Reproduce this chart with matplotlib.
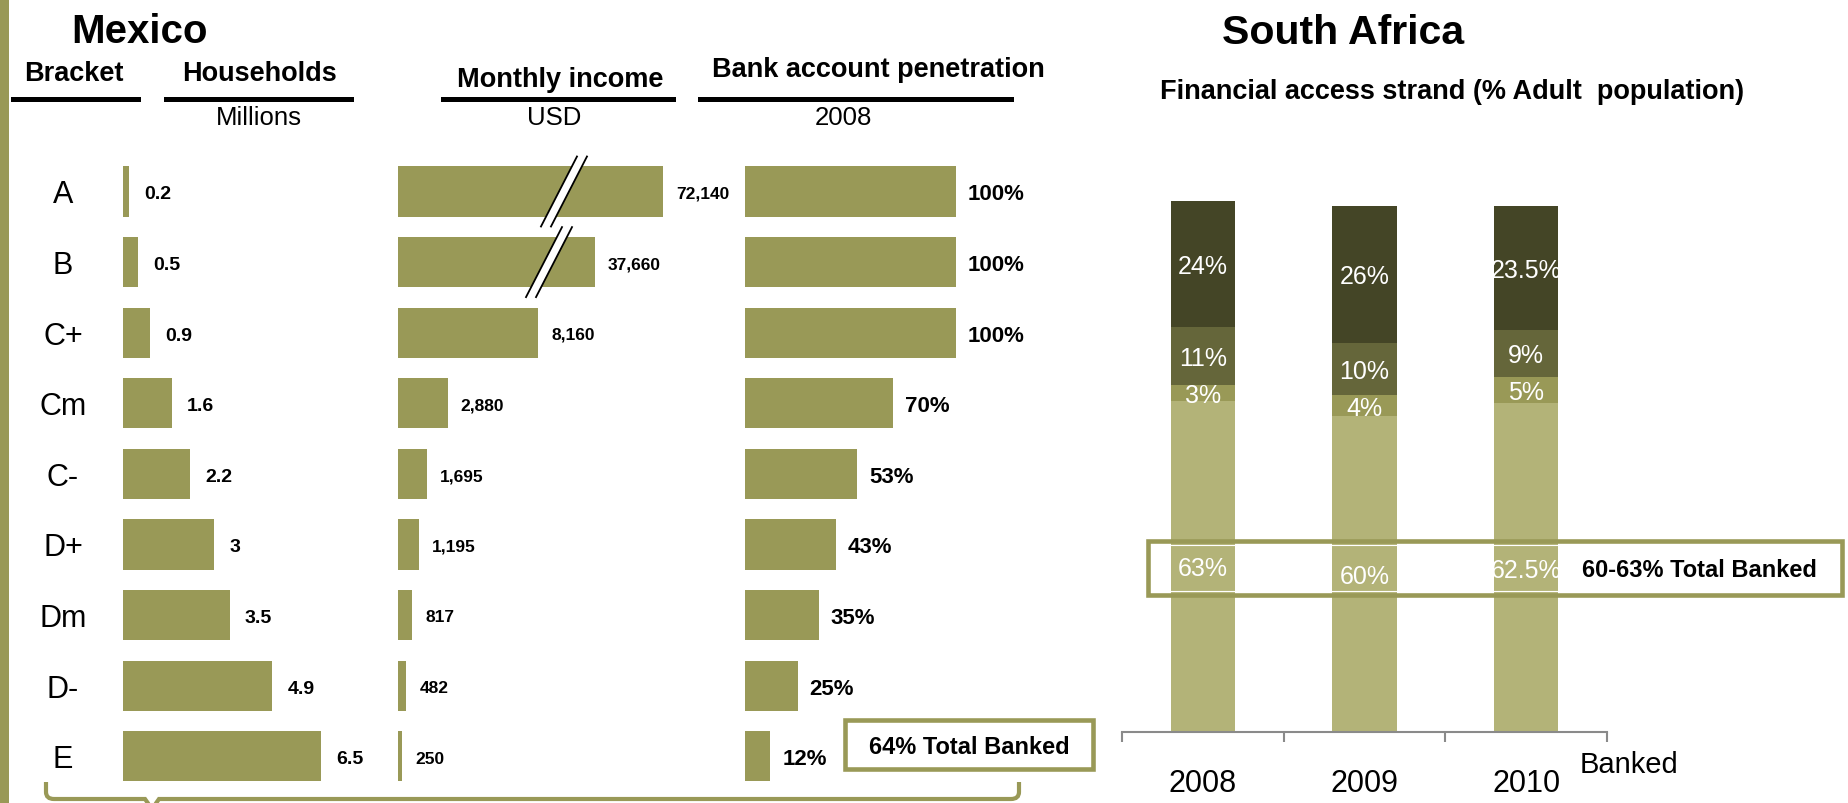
import matplotlib
matplotlib.use("Agg")
import matplotlib.pyplot as plt
from matplotlib import transforms
from matplotlib.patches import Rectangle, Polygon, PathPatch
from matplotlib.path import Path

plt.rcParams['font.family'] = ['Liberation Sans', 'DejaVu Sans']

# Mexico: income brackets
brackets = ["A", "B", "C+", "Cm", "C-", "D+", "Dm", "D-", "E"]
households_m = [0.2, 0.5, 0.9, 1.6, 2.2, 3, 3.5, 4.9, 6.5]
income_usd = [72140, 37660, 8160, 2880, 1695, 1195, 817, 482, 250]
bank_pct = [100, 100, 100, 70, 53, 43, 35, 25, 12]

# South Africa: financial access strand, % of adults (bottom to top)
years = ["2008", "2009", "2010"]
banked = [63, 60, 62.5]
other_formal = [3, 4, 5]
informal_only = [11, 10, 9]
excluded = [24, 26, 23.5]

OLIVE = "#999957"
SA_COLORS = ["#b3b378", "#999957", "#65663a", "#444526"]
GREY = "#8a8a8a"

W, H = 1849, 804
fig = plt.figure(figsize=(W / 100, H / 100), dpi=100)


def px_rect(left, top, width, height):
    return [left / W, 1 - (top + height) / H, width / W, height / H]


def cap_text(ax, x, y, s, size, dx=0, trans=None, **kw):
    # place text so that its cap height is centred on (x, y)
    cap = size * 100 / 72 * 0.716
    base = trans if trans is not None else ax.transData
    t = transforms.offset_copy(base, fig=fig, x=dx, y=-cap / 2, units='dots')
    return ax.text(x, y, s, transform=t, fontsize=size, va='baseline', clip_on=False, **kw)


# overlay in pixel coordinates for titles, rules and callouts
ov = fig.add_axes([0, 0, 1, 1])
ov.set_xlim(0, W)
ov.set_ylim(H, 0)
ov.axis('off')
ov.set_zorder(5)

# row layout shared by the three Mexico columns
row0, step = 192.5, 70.6
top = row0 - step / 2
n = len(brackets)
bar_h = 0.71


def row_axes(left, width, px_per_unit):
    ax = fig.add_axes(px_rect(left, top, width, n * step))
    ax.set_xlim(0, width / px_per_unit)
    ax.set_ylim(n - 0.5, -0.5)
    ax.axis('off')
    return ax


ax_hh = row_axes(123, 260, 30.5)
ax_inc = row_axes(398, 300, 0.0172)
ax_bank = row_axes(745, 320, 2.11)

ax_hh.barh(range(n), households_m, height=bar_h, color=OLIVE)
for i, v in enumerate(households_m):
    cap_text(ax_hh, v, i, f"{v:g}", 14, dx=15, fontweight='bold')

# bracket names on the left
lab_trans = transforms.blended_transform_factory(ov.transData, ax_hh.transData)
for i, b in enumerate(brackets):
    cap_text(ax_hh, 63, i, b, 22, trans=lab_trans, ha='center')

# monthly income, two top bars are shortened with a break mark
broken = {0: (15400, 9650), 1: (11450, 8780)}
drawn = [min(v, broken[i][0]) if i in broken else v for i, v in enumerate(income_usd)]
ax_inc.barh(range(n), drawn, height=bar_h, color=OLIVE)
for i, v in enumerate(drawn):
    cap_text(ax_inc, v, i, f"{income_usd[i]:,}", 12.5, dx=13, fontweight='bold')

ax_bank.barh(range(n), bank_pct, height=bar_h, color=OLIVE)
for i, v in enumerate(bank_pct):
    cap_text(ax_bank, v, i, f"{v}%", 16, dx=12, fontweight='bold')

to_ov = ov.transData.inverted()
fig.canvas.draw()
for i, (cap_v, bx) in broken.items():
    cx, cy = to_ov.transform(ax_inc.transData.transform((bx, i)))
    hh, sk, gap = 35, 18, 5
    l1 = [(cx + sk - gap, cy - hh), (cx - sk - gap, cy + hh)]
    l2 = [(cx + sk + gap, cy - hh), (cx - sk + gap, cy + hh)]
    ov.add_patch(Polygon([l1[0], l2[0], l2[1], l1[1]], closed=True, color='white', lw=0))
    for seg in (l1, l2):
        ov.plot([seg[0][0], seg[1][0]], [seg[0][1], seg[1][1]], color='black', lw=1.3)

# South Africa stacked columns
ax_sa = fig.add_axes(px_rect(1122, 207, 485, 526))
ax_sa.set_xlim(-0.5, 2.5)
ax_sa.set_ylim(0, 100)
x = range(len(years))
bottom = [0] * len(years)
for series, col in zip([banked, other_formal, informal_only, excluded], SA_COLORS):
    ax_sa.bar(x, series, bottom=bottom, width=0.396, color=col, clip_on=False)
    for i, v in enumerate(series):
        cap_text(ax_sa, i, bottom[i] + v / 2, f"{v:g}%", 18, ha='center', color='white')
    bottom = [b + v for b, v in zip(bottom, series)]

for s in ['top', 'left', 'right']:
    ax_sa.spines[s].set_visible(False)
ax_sa.spines['bottom'].set_color(GREY)
ax_sa.spines['bottom'].set_linewidth(1.5)
ax_sa.set_yticks([])
ax_sa.set_xticks([-0.5, 0.5, 1.5, 2.5])
ax_sa.tick_params(axis='x', direction='out', length=7.5, width=1.5, color=GREY, labelbottom=False)
ax_sa.patch.set_alpha(0)
year_trans = transforms.blended_transform_factory(ax_sa.transData, ov.transData)
for i, yr in enumerate(years):
    cap_text(ax_sa, i, 781, yr, 22, trans=year_trans, ha='center')

# left accent strip
ov.add_patch(Rectangle((0, 0), 8.5, H, color=OLIVE, lw=0))

# titles and column headers
cap_text(ov, 139.5, 29, "Mexico", 29, ha='center', fontweight='bold')
cap_text(ov, 1343, 29, "South Africa", 29.5, ha='center', fontweight='bold')
cap_text(ov, 1452, 89.5, "Financial access strand (% Adult  population)", 19.5,
         ha='center', fontweight='bold')

headers = [("Bracket", 73.5, 71), ("Households", 259, 71),
           ("Monthly income", 560, 77), ("Bank account penetration", 878, 67)]
for txt, hx, hy in headers:
    cap_text(ov, hx, hy, txt, 19.5, ha='center', fontweight='bold')
for x0, x1 in [(11, 141), (164, 354), (441, 676), (698, 1014)]:
    ov.add_patch(Rectangle((x0, 98), x1 - x0, 5, color='black', lw=0))
for txt, sx in [("Millions", 259), ("USD", 554), ("2008", 843)]:
    cap_text(ov, sx, 116, txt, 18.5, ha='center')

# callout boxes
ov.add_patch(Rectangle((845, 721), 248, 49, facecolor='white', edgecolor=OLIVE, lw=3.3))
cap_text(ov, 969, 745.5, "64% Total Banked", 17, ha='center', fontweight='bold')
ov.add_patch(Rectangle((1148, 542), 694, 54, facecolor='none', edgecolor=OLIVE, lw=3.3))
ov.add_patch(Rectangle((1152, 546), 686, 46, facecolor='none', edgecolor='white', lw=0.8))
cap_text(ov, 1582, 569, "60-63% Total Banked", 17, fontweight='bold')
cap_text(ov, 1580, 763, "Banked", 21)

# brace under the Mexico columns
verts = [(46, 783), (46, 793), (46, 800), (54, 800), (145, 800), (152, 810),
         (159, 800), (1011, 800), (1019, 800), (1019, 793), (1019, 783)]
codes = [Path.MOVETO, Path.LINETO, Path.CURVE3, Path.CURVE3, Path.LINETO, Path.LINETO,
         Path.LINETO, Path.LINETO, Path.CURVE3, Path.CURVE3, Path.LINETO]
ov.add_patch(PathPatch(Path(verts, codes), facecolor='none', edgecolor=OLIVE, lw=3))

fig.savefig("out.png", dpi=100)
